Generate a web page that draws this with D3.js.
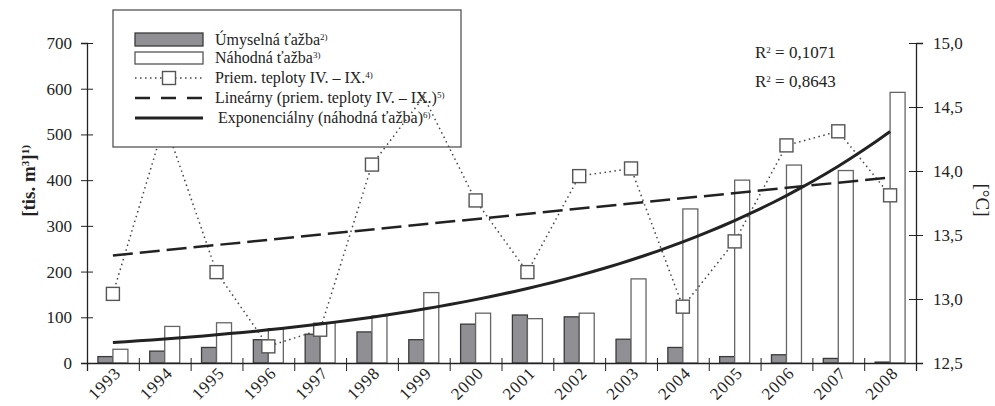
<!DOCTYPE html>
<html>
<head>
<meta charset="utf-8">
<script src="https://cdn.jsdelivr.net/npm/d3@7"></script>
<style>
  body { margin: 0; background: #fff; }
  svg text { font-family: 'Liberation Serif', 'Times New Roman', 'DejaVu Serif', serif; fill: #222; }
</style>
</head>
<body>
<svg id="chart" width="995" height="406"></svg>
<script>
// values
const years = [1993, 1994, 1995, 1996, 1997, 1998, 1999, 2000, 2001, 2002, 2003, 2004, 2005, 2006, 2007, 2008];
const umyselna = [14, 26, 34, 51, 63, 68, 51, 85, 105, 101, 52, 34, 14, 18, 10, 2];
const nahodna = [30, 80, 88, 75, 88, 103, 154, 109, 97, 109, 184, 337, 400, 433, 421, 592];
const teploty = [13.04, 14.38, 13.21, 12.63, 12.76, 14.05, 14.58, 13.77, 13.21, 13.96, 14.02, 12.94, 13.45, 14.20, 14.31, 13.81];
const leftTicks = [0, 100, 200, 300, 400, 500, 600, 700];
const rightTicks = [12.5, 13.0, 13.5, 14.0, 14.5, 15.0];
const legendLabels = [
  ["Úmyselná ťažba", "2)"],
  ["Náhodná ťažba", "3)"],
  ["Priem. teploty IV. – IX.", "4)"],
  ["Lineárny (priem. teploty IV. – IX.)", "5)"],
  ["Exponenciálny (náhodná ťažba)", "6)"]
];
const r2Labels = ["0,1071", "0,8643"];

const serif = "'Liberation Serif', 'Times New Roman', 'DejaVu Serif', serif";
const svg = d3.select("#chart").style("font-family", serif);
const pL = 87, pR = 916, pT = 43, pB = 363;

const x = d3.scaleBand().domain(years).range([pL, pR]);
const sub = d3.scaleBand().domain(["u", "n"]).range([-15, 15]);
const y = d3.scaleLinear().domain([0, 700]).range([pB, pT]);
const yT = d3.scaleLinear().domain([12.5, 15]).range([pB, pT]);
const cx = d => x(d) + x.bandwidth() / 2;

// bars
const bars = svg.append("g");
bars.selectAll("rect.u").data(umyselna).join("rect")
  .attr("x", (d, i) => cx(years[i]) + sub("u"))
  .attr("y", d => y(d))
  .attr("width", sub.bandwidth())
  .attr("height", d => pB - y(d))
  .attr("fill", "#909094")
  .attr("stroke", "#3a3a3a")
  .attr("stroke-width", 1.3);
bars.selectAll("rect.n").data(nahodna).join("rect")
  .attr("x", (d, i) => cx(years[i]) + sub("n"))
  .attr("y", d => y(d))
  .attr("width", sub.bandwidth())
  .attr("height", d => pB - y(d))
  .attr("fill", "#fff")
  .attr("stroke", "#666")
  .attr("stroke-width", 1.3);

// trend lines, least squares on the data (as the spreadsheet does)
const idx = years.map((d, i) => i);
function fit(xs, ys) {
  const mx = d3.mean(xs), my = d3.mean(ys);
  const b = d3.sum(xs, (v, i) => (v - mx) * (ys[i] - my)) / d3.sum(xs, v => (v - mx) ** 2);
  return { a: my - b * mx, b };
}
const lin = fit(idx, teploty);
const ex = fit(idx, nahodna.map(Math.log));
const xi = d3.scaleLinear().domain([0, years.length - 1]).range([cx(years[0]), cx(years[years.length - 1])]);
const steps = d3.range(0, years.length - 1 + 0.001, 0.25);

// temperature line + markers
const tempLine = d3.line().x((d, i) => cx(years[i])).y(d => yT(d));
svg.append("path")
  .attr("d", tempLine(teploty))
  .attr("fill", "none")
  .attr("stroke", "#444")
  .attr("stroke-width", 1.5)
  .attr("stroke-dasharray", "1.5,3.5");
svg.append("g").selectAll("rect").data(teploty).join("rect")
  .attr("x", (d, i) => cx(years[i]) - 6.5)
  .attr("y", d => yT(d) - 6.5)
  .attr("width", 13).attr("height", 13)
  .attr("fill", "#fff")
  .attr("stroke", "#555")
  .attr("stroke-width", 1.4);

svg.append("path")
  .attr("d", d3.line().x(t => xi(t)).y(t => yT(lin.a + lin.b * t))([0, years.length - 1]))
  .attr("fill", "none")
  .attr("stroke", "#222")
  .attr("stroke-width", 2.5)
  .attr("stroke-dasharray", "20,7");

svg.append("path")
  .attr("d", d3.line().x(t => xi(t)).y(t => y(Math.exp(ex.a + ex.b * t)))(steps))
  .attr("fill", "none")
  .attr("stroke", "#222")
  .attr("stroke-width", 3);

// axes
const fontAxis = g => g.attr("font-family", null).attr("font-size", 17).attr("color", "#222");

svg.append("g")
  .attr("transform", `translate(${pL},0)`)
  .call(d3.axisLeft(y).tickValues(leftTicks).tickSizeOuter(0).tickSize(6).tickPadding(9))
  .call(fontAxis)
  .call(g => g.selectAll(".tick line").attr("x1", 6))
  .call(g => g.select(".domain").attr("stroke-width", 1.3));

svg.append("g")
  .attr("transform", `translate(${pR},0)`)
  .call(d3.axisRight(yT).tickValues(rightTicks).tickSizeOuter(0).tickSize(7).tickPadding(10)
    .tickFormat(d => d3.format(".1f")(d).replace(".", ",")))
  .call(fontAxis)
  .call(g => g.selectAll(".tick line").attr("x1", -7))
  .call(g => g.select(".domain").attr("stroke-width", 1.3));

const xb = d3.scaleLinear().domain([0, years.length]).range([pL, pR]);
svg.append("g")
  .attr("transform", `translate(0,${pB})`)
  .call(d3.axisBottom(xb).tickValues(d3.range(years.length + 1)).tickSizeOuter(0).tickSize(8).tickFormat(""))
  .call(fontAxis)
  .call(g => g.selectAll(".tick line").attr("y1", -5))
  .call(g => g.select(".domain").attr("stroke-width", 1.3));

svg.append("g").selectAll("text").data(years).join("text")
  .attr("transform", d => `translate(${cx(d) + 9},374) rotate(-45)`)
  .attr("text-anchor", "end")
  .attr("font-size", 17)
  .attr("letter-spacing", 1)
  .text(d => d);

// axis titles
const yTitle = svg.append("text")
  .attr("transform", "translate(35,181) rotate(-90)")
  .attr("text-anchor", "middle")
  .attr("font-size", 19)
  .attr("font-weight", "bold");
yTitle.append("tspan").text("[tis. m");
yTitle.append("tspan").attr("font-size", 11).attr("baseline-shift", "super").text("3");
yTitle.append("tspan").text("]");
yTitle.append("tspan").attr("font-size", 11).attr("baseline-shift", "super").text("1)");

svg.append("text")
  .attr("transform", "translate(976,200) rotate(90)")
  .attr("text-anchor", "middle")
  .attr("font-size", 19)
  .text("[°C]");

// R² labels
r2Labels.forEach((v, i) => {
  const t = svg.append("text").attr("x", 755).attr("y", 58 + i * 29).attr("font-size", 17);
  t.append("tspan").text("R");
  t.append("tspan").attr("font-size", 9).attr("baseline-shift", "super").text("2");
  t.append("tspan").text(" = " + v);
});

// legend
const lg = svg.append("g");
const lx = 113, ly = 10, lw = 348, lh = 137;
lg.append("rect").attr("x", lx).attr("y", ly).attr("width", lw).attr("height", lh)
  .attr("fill", "#fff").attr("stroke", "#555").attr("stroke-width", 1.3);
const rowY = [40, 58, 78, 98, 118];
const sx0 = 135, sx1 = 203;
lg.append("rect").attr("x", sx0).attr("y", rowY[0] - 7).attr("width", sx1 - sx0).attr("height", 13)
  .attr("fill", "#909094").attr("stroke", "#3a3a3a").attr("stroke-width", 1.3);
lg.append("rect").attr("x", sx0).attr("y", rowY[1] - 6).attr("width", sx1 - sx0).attr("height", 12)
  .attr("fill", "#fff").attr("stroke", "#555").attr("stroke-width", 1.3);
lg.append("line").attr("x1", sx0).attr("x2", sx1).attr("y1", rowY[2]).attr("y2", rowY[2])
  .attr("stroke", "#444").attr("stroke-width", 1.5).attr("stroke-dasharray", "1.5,3.5");
lg.append("rect").attr("x", (sx0 + sx1) / 2 - 6.5).attr("y", rowY[2] - 6.5).attr("width", 13).attr("height", 13)
  .attr("fill", "#fff").attr("stroke", "#555").attr("stroke-width", 1.4);
lg.append("line").attr("x1", sx0).attr("x2", sx1).attr("y1", rowY[3]).attr("y2", rowY[3])
  .attr("stroke", "#222").attr("stroke-width", 2.5).attr("stroke-dasharray", "15,11");
lg.append("line").attr("x1", sx0).attr("x2", sx1).attr("y1", rowY[4]).attr("y2", rowY[4])
  .attr("stroke", "#222").attr("stroke-width", 3);
legendLabels.forEach(([label, sup], i) => {
  const t = lg.append("text").attr("x", i === 4 ? 218 : 215).attr("y", rowY[i] + 5).attr("font-size", 16);
  t.append("tspan").text(label);
  t.append("tspan").attr("font-size", 9).attr("baseline-shift", "super").text(sup);
});

// the 1998–2000 part of the temperature line shows over the legend box
svg.append("clipPath").attr("id", "lgclip")
  .append("rect").attr("x", lx).attr("y", ly).attr("width", lw).attr("height", lh);
svg.append("path")
  .attr("clip-path", "url(#lgclip)")
  .attr("d", tempLine.x((d, i) => cx(years[i + 5]))(teploty.slice(5, 8)))
  .attr("fill", "none")
  .attr("stroke", "#444")
  .attr("stroke-width", 1.5)
  .attr("stroke-dasharray", "1.5,3.5");
</script>
</body>
</html>
